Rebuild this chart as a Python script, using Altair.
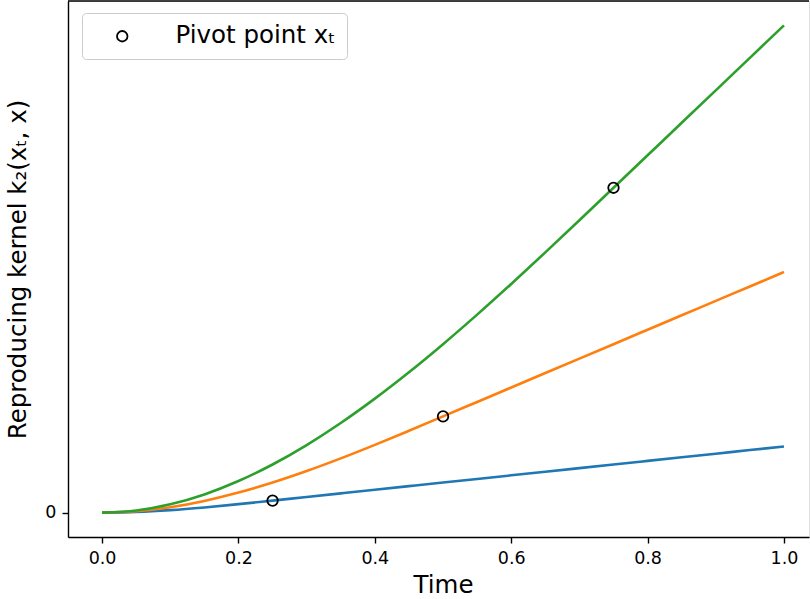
import altair as alt
import pandas as pd

# Time grid and kernel values
x_vals = [0.0, 0.05, 0.10, 0.15, 0.20, 0.25, 0.30, 0.35, 0.40, 0.45, 0.50,
          0.55, 0.60, 0.65, 0.70, 0.75, 0.80, 0.85, 0.90, 0.95, 1.00]
k_025 = [0.0, 0.000292, 0.001083, 0.00225, 0.003667, 0.005208, 0.006771, 0.008333,
         0.009896, 0.011458, 0.013021, 0.014583, 0.016146, 0.017708, 0.019271,
         0.020833, 0.022396, 0.023958, 0.025521, 0.027083, 0.028646]
k_050 = [0.0, 0.000604, 0.002333, 0.005063, 0.008667, 0.013021, 0.018, 0.023479,
         0.029333, 0.035438, 0.041667, 0.047917, 0.054167, 0.060417, 0.066667,
         0.072917, 0.079167, 0.085417, 0.091667, 0.097917, 0.104167]
k_075 = [0.0, 0.000917, 0.003583, 0.007875, 0.013667, 0.020833, 0.02925, 0.038792,
         0.049333, 0.06075, 0.072917, 0.085708, 0.099, 0.112667, 0.126583,
         0.140625, 0.154688, 0.16875, 0.182813, 0.196875, 0.210938]
series_names = ["t=0.25", "t=0.5", "t=0.75"]
series_colors = ["#1f77b4", "#ff7f0e", "#2ca02c"]

pivot_x = [0.25, 0.5, 0.75]
pivot_y = [0.005208, 0.041667, 0.140625]
pivot_label = "Pivot point xₜ"

x_ticks = [0.0, 0.2, 0.4, 0.6, 0.8, 1.0]
y_ticks = [0]

rows = []
for name, ys in zip(series_names, [k_025, k_050, k_075]):
    for xv, yv in zip(x_vals, ys):
        rows.append({"time": xv, "k": yv, "series": name})
lines_df = pd.DataFrame(rows)
pivots_df = pd.DataFrame({"time": pivot_x, "k": pivot_y, "label": [pivot_label] * 3})

W, H = 741, 536
FONT = "DejaVu Sans"

x_scale = alt.Scale(domain=[-0.05, 1.0367], nice=False, zero=False)
y_scale = alt.Scale(domain=[-0.01055, 0.22148], nice=False, zero=False)

x_axis = alt.Axis(values=x_ticks, format=".1f", title="Time", grid=False, ticks=True, domain=True,
                  tickSize=6, tickWidth=1.4, tickColor="black", domainColor="black",
                  domainWidth=1.4, labelFontSize=17.5, labelPadding=6, labelColor="black",
                  titleFontSize=24.5, titleFontWeight="normal", titleColor="black",
                  titlePadding=7, labelFont=FONT, titleFont=FONT, titleX=375)
y_axis = alt.Axis(values=y_ticks, format="d", title="Reproducing kernel k₂(xₜ, x)", grid=False,
                  ticks=True, domain=True,
                  tickSize=6, tickWidth=1.4, tickColor="black", domainColor="black",
                  domainWidth=1.4, labelFontSize=17.5, labelPadding=6, labelColor="black",
                  titleFontSize=24.5, titleFontWeight="normal", titleColor="black",
                  titlePadding=14, labelFont=FONT, titleFont=FONT)

lines = alt.Chart(lines_df).mark_line(strokeWidth=2.6, interpolate="monotone", clip=True).encode(
    x=alt.X("time:Q", scale=x_scale, axis=x_axis),
    y=alt.Y("k:Q", scale=y_scale, axis=y_axis),
    color=alt.Color("series:N", scale=alt.Scale(domain=series_names, range=series_colors), legend=None),
    detail="series:N",
)

points = alt.Chart(pivots_df).mark_point(filled=False, color="black", size=110, strokeWidth=1.8, opacity=1).encode(
    x=alt.X("time:Q", scale=x_scale),
    y=alt.Y("k:Q", scale=y_scale),
    shape=alt.Shape("label:N", scale=alt.Scale(domain=[pivot_label], range=["circle"]),
                    legend=alt.Legend(title=None, orient="none", legendX=14, legendY=12,
                                      fillColor="white", strokeColor="#cccccc", cornerRadius=4,
                                      padding=11, labelFontSize=24.5, labelFont=FONT,
                                      labelColor="black", symbolSize=110, symbolStrokeWidth=1.8,
                                      symbolStrokeColor="black", symbolFillColor="transparent",
                                      symbolOffset=17, labelOffset=41)),
)

top_spine = alt.Chart(pd.DataFrame({"a": [0]})).mark_rule(color="black", strokeWidth=1.4).encode(
    x=alt.value(0), x2=alt.value(W), y=alt.value(0)
)

chart = alt.layer(lines, points, top_spine).properties(
    width=W, height=H,
    autosize=alt.AutoSizeParams(type="none"),
    padding={"left": 68, "top": 1, "right": 1, "bottom": 62},
).configure_view(stroke=None).configure(font=FONT)

chart.save("out.html", embed_options={"renderer": "svg", "actions": False})
